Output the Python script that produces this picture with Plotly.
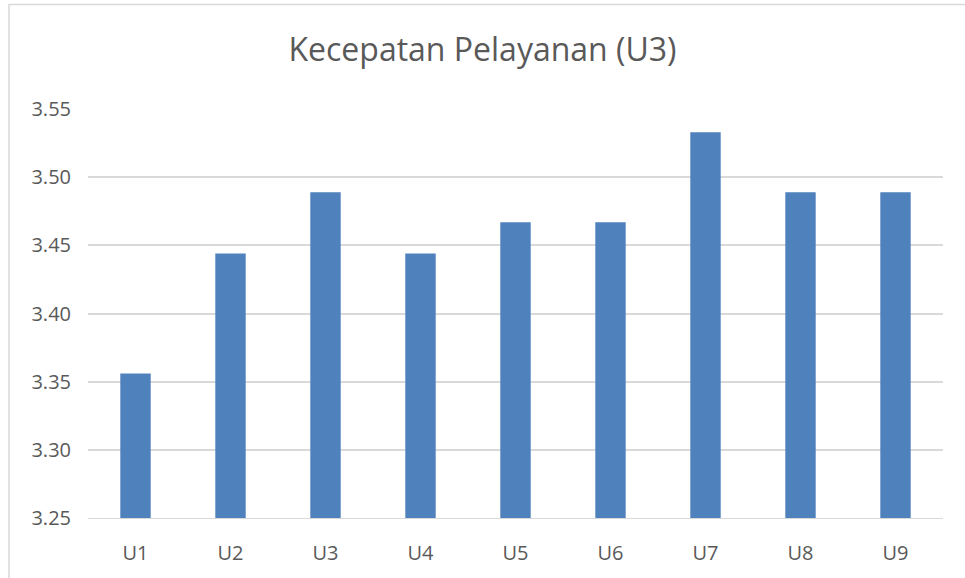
import plotly.graph_objects as go

categories = ["U1", "U2", "U3", "U4", "U5", "U6", "U7", "U8", "U9"]
values = [3.356, 3.444, 3.489, 3.444, 3.467, 3.467, 3.533, 3.489, 3.489]
y_ticks = [3.25, 3.30, 3.35, 3.40, 3.45, 3.50, 3.55]

bar_color = "#4F81BD"
grid_color = "#D9D9D9"
text_color = "#595959"
font_family = "Open Sans, Liberation Sans, sans-serif"

fig = go.Figure(
    go.Bar(
        x=categories,
        y=values,
        marker=dict(color=bar_color, line=dict(width=0)),
    )
)

fig.update_layout(
    width=965,
    height=578,
    margin=dict(l=88, r=22, t=109, b=58),
    paper_bgcolor="white",
    plot_bgcolor="white",
    showlegend=False,
    bargap=0.68,
    font=dict(family=font_family, size=20, color=text_color),
    title=dict(
        text="Kecepatan Pelayanan (U3)",
        x=0.5,
        xanchor="center",
        y=0.913,
        yanchor="middle",
        font=dict(family=font_family, size=32, color=text_color),
    ),
    # outer chart frame (left and top edges visible in the original)
    shapes=[
        dict(
            type="rect", xref="paper", yref="paper",
            x0=-0.0924, x1=1.3, y0=-0.5, y1=1.2555,
            line=dict(color=grid_color, width=1.5),
            layer="below",
        )
    ],
)

fig.update_xaxes(
    showgrid=False,
    showline=True,
    linecolor=grid_color,
    linewidth=1,
    ticks="",
    ticklabelstandoff=17,
    tickfont=dict(size=20, color=text_color),
)

fig.update_yaxes(
    range=[3.25, 3.55],
    tickvals=y_ticks,
    tickformat=".2f",
    showgrid=True,
    gridcolor=grid_color,
    gridwidth=1.5,
    zeroline=False,
    showline=False,
    ticks="",
    ticklabelstandoff=16,
    tickfont=dict(size=20, color=text_color),
)

# drop the browser's default body margin so the figure sits at the page corner
fig.write_html(
    "out.html",
    config={"displayModeBar": False},
    post_script="document.body.style.margin='0';",
)
